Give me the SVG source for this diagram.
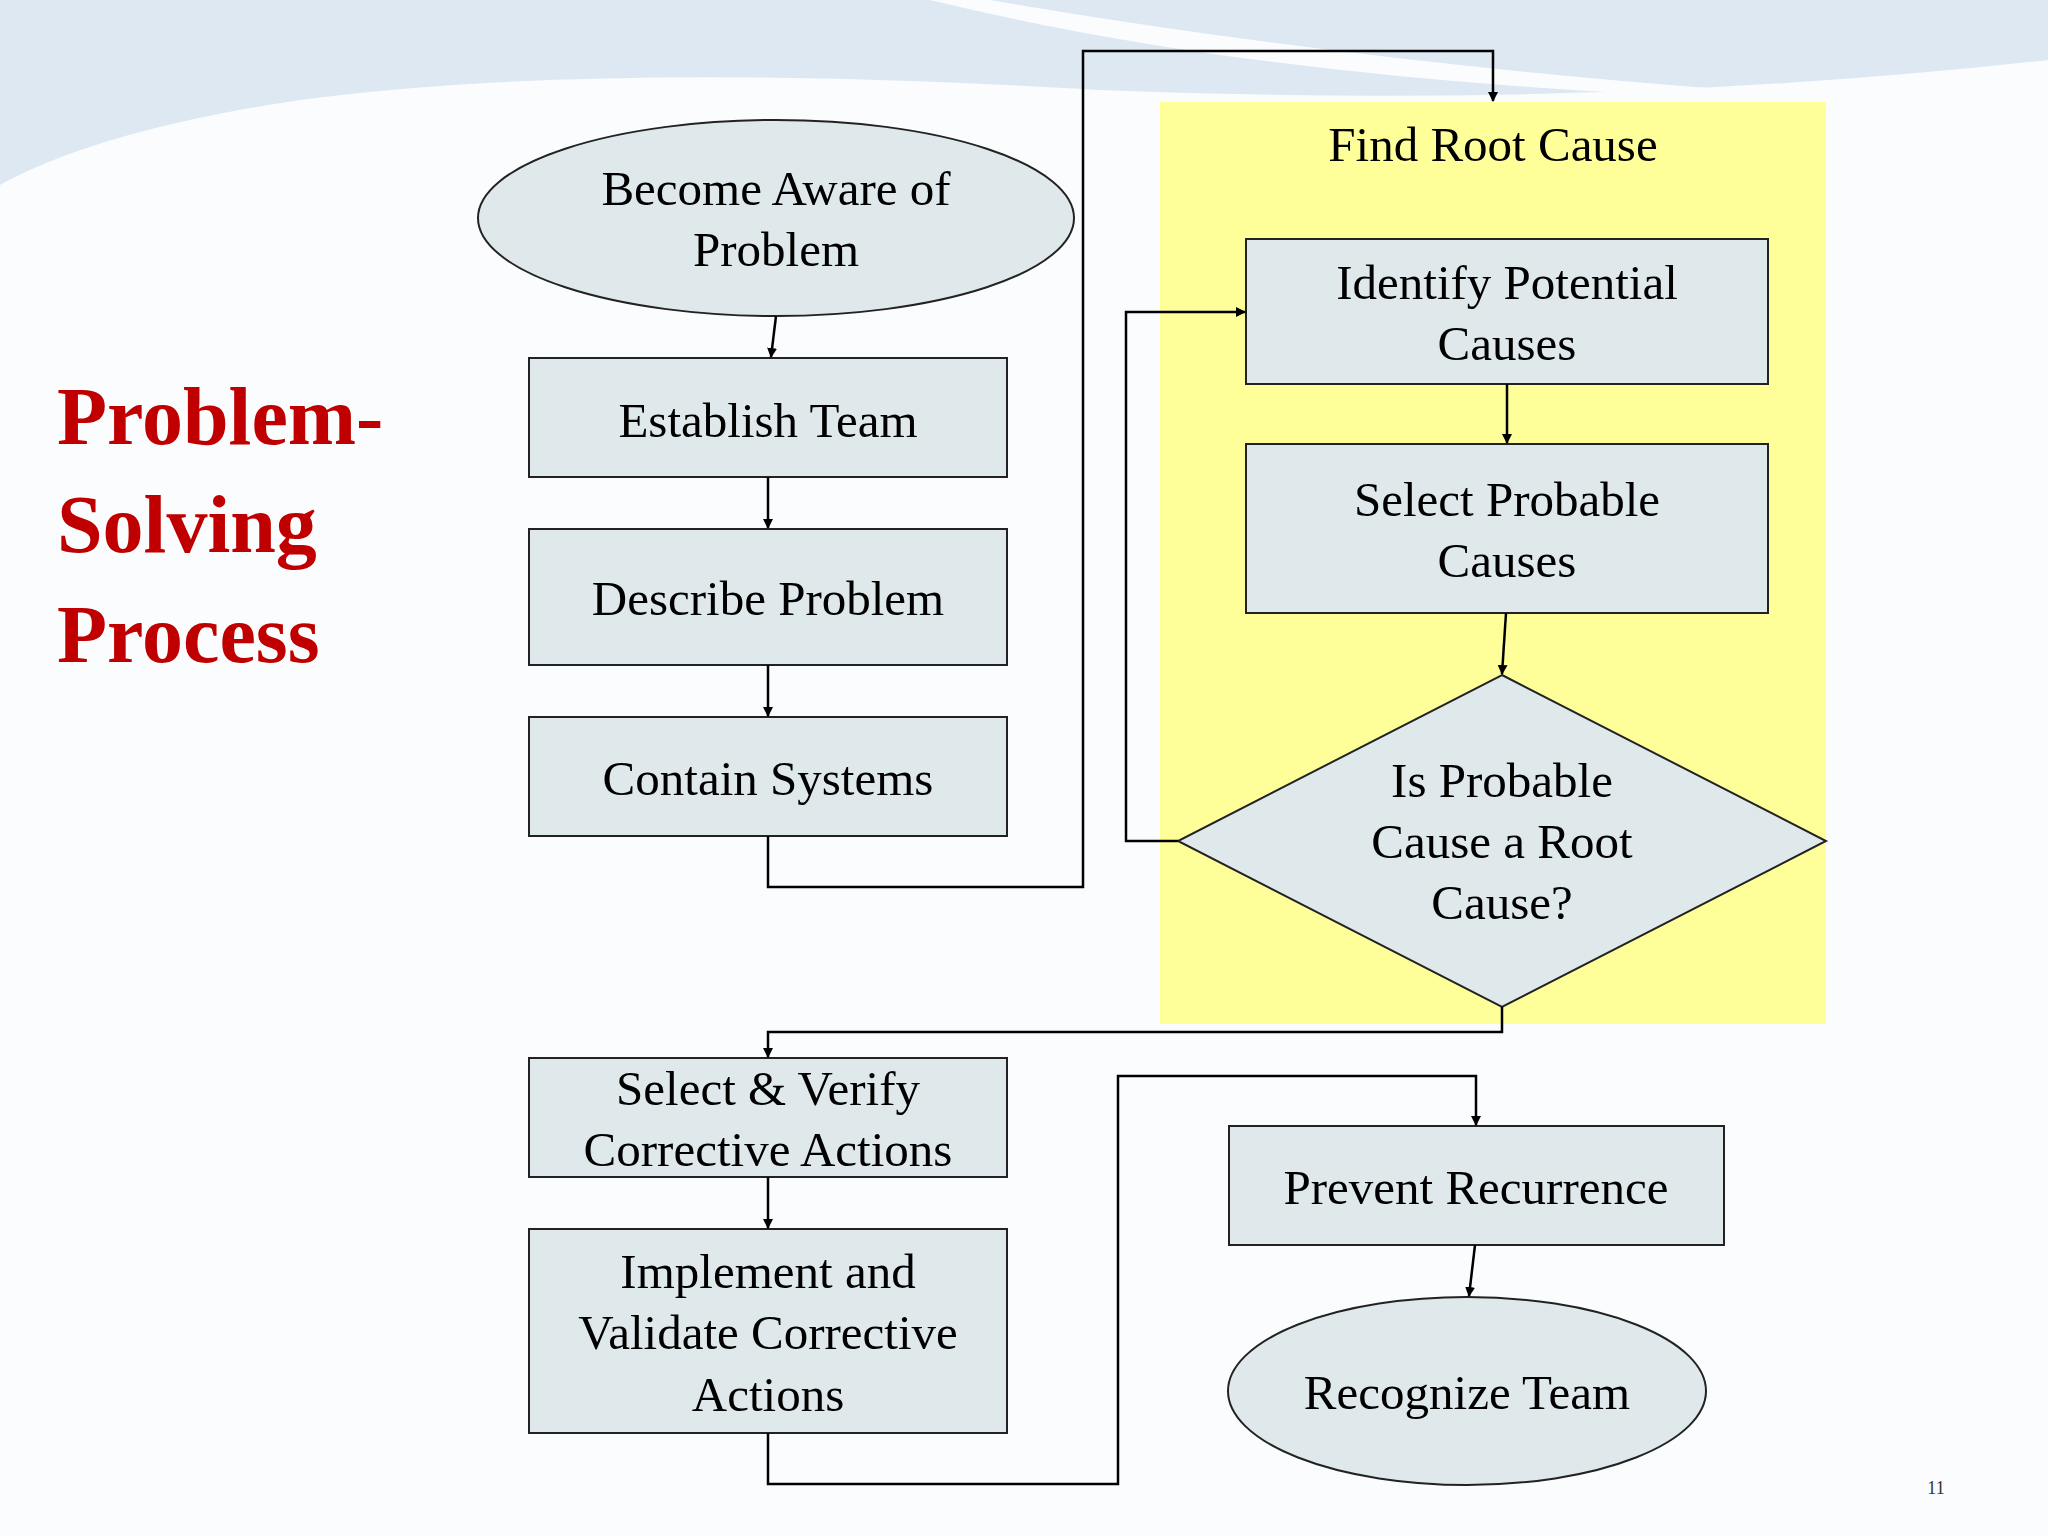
<svg xmlns="http://www.w3.org/2000/svg" width="2048" height="1536" viewBox="0 0 2048 1536">
<defs>
<marker id="ah" markerWidth="10" markerHeight="10" refX="9" refY="5" orient="auto" markerUnits="userSpaceOnUse"><path d="M0,0 L10,5 L0,10 z" fill="#000"/></marker>
<style>
.n{fill:#dfe9ec;stroke:#222;stroke-width:2}
.t{font-family:"Liberation Serif",serif;font-size:49px;fill:#000;text-anchor:middle}
.c{fill:none;stroke:#000;stroke-width:2.5}
.h{font-family:"Liberation Serif",serif;font-weight:bold;font-size:82px;fill:#c00000}
</style>
</defs>
<rect width="2048" height="1536" fill="#fbfcfd"/>
<path d="M0,0 H2048 V60 Q1600,110 1100,90 Q600,60 300,100 Q100,130 0,185 Z" fill="#dde8f3"/>
<path d="M930,0 Q1300,90 1830,100 L1850,98 Q1400,70 990,0 Z" fill="#fbfcfd"/>
<rect x="1160" y="102" width="666" height="922" fill="#ffff99"/>
<text class="h" x="57" y="444">Problem-</text>
<text class="h" x="57" y="552">Solving</text>
<text class="h" x="57" y="662">Process</text>
<g id="aware"><ellipse class="n" cx="776" cy="218" rx="298" ry="98"/><text class="t" x="776" y="205">Become Aware of</text><text class="t" x="776" y="266">Problem</text></g>
<g id="establish"><rect class="n" x="529" y="358" width="478" height="119"/><text class="t" x="768" y="437">Establish Team</text></g>
<g id="describe"><rect class="n" x="529" y="529" width="478" height="136"/><text class="t" x="768" y="615">Describe Problem</text></g>
<g id="contain"><rect class="n" x="529" y="717" width="478" height="119"/><text class="t" x="768" y="795">Contain Systems</text></g>
<g id="findroot"><text class="t" x="1493" y="161">Find Root Cause</text></g>
<g id="identify"><rect class="n" x="1246" y="239" width="522" height="145"/><text class="t" x="1507" y="299">Identify Potential</text><text class="t" x="1507" y="360">Causes</text></g>
<g id="selectprob"><rect class="n" x="1246" y="444" width="522" height="169"/><text class="t" x="1507" y="516">Select Probable</text><text class="t" x="1507" y="577">Causes</text></g>
<g id="decision"><polygon class="n" points="1502,675 1826,841 1502,1007 1178,841"/><text class="t" x="1502" y="797">Is Probable</text><text class="t" x="1502" y="858">Cause a Root</text><text class="t" x="1502" y="919">Cause?</text></g>
<g id="verify"><rect class="n" x="529" y="1058" width="478" height="119"/><text class="t" x="768" y="1105">Select &amp; Verify</text><text class="t" x="768" y="1166">Corrective Actions</text></g>
<g id="implement"><rect class="n" x="529" y="1229" width="478" height="204"/><text class="t" x="768" y="1288">Implement and</text><text class="t" x="768" y="1349">Validate Corrective</text><text class="t" x="768" y="1411">Actions</text></g>
<g id="prevent"><rect class="n" x="1229" y="1126" width="495" height="119"/><text class="t" x="1476" y="1204">Prevent Recurrence</text></g>
<g id="recognize"><ellipse class="n" cx="1467" cy="1391" rx="239" ry="94"/><text class="t" x="1467" y="1409">Recognize Team</text></g>
<g id="connectors">
<path class="c" d="M776,316 L771,357" marker-end="url(#ah)"/>
<path class="c" d="M768,477 V528" marker-end="url(#ah)"/>
<path class="c" d="M768,665 V716" marker-end="url(#ah)"/>
<path class="c" d="M768,836 V887 H1083 V51 H1493 V101" marker-end="url(#ah)"/>
<path class="c" d="M1507,384 V443" marker-end="url(#ah)"/>
<path class="c" d="M1506,613 L1502,674" marker-end="url(#ah)"/>
<path class="c" d="M1178,841 H1126 V312 H1245" marker-end="url(#ah)"/>
<path class="c" d="M1502,1007 V1032 H768 V1057" marker-end="url(#ah)"/>
<path class="c" d="M768,1177 V1228" marker-end="url(#ah)"/>
<path class="c" d="M768,1433 V1484 H1118 V1076 H1476 V1125" marker-end="url(#ah)"/>
<path class="c" d="M1475,1245 L1469,1296" marker-end="url(#ah)"/>
</g>
<text x="1936" y="1494" font-family="Liberation Serif,serif" font-size="18" fill="#333" text-anchor="middle">11</text>
</svg>
